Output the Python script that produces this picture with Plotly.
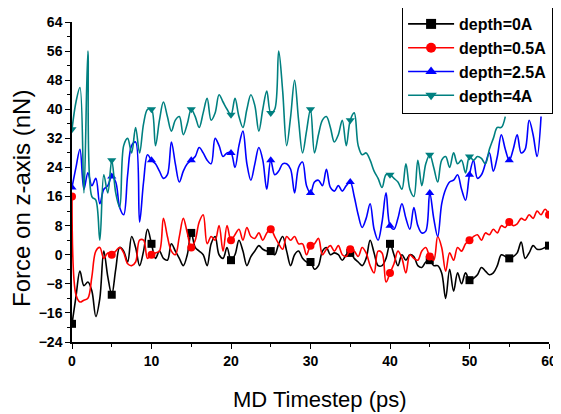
import numpy as np
import plotly.graph_objects as go

# time grid (ps), 0.5 ps sampling
time_ps = [i * 0.5 for i in range(121)]

depth_0A = [
    -19, -11.5, -4.5, -8.5, -7.5, -10, -17, -12, 1, -6,
    -11, -4, 2, 1, -2, 5, 2, -3, 1, 7,
    3, -1, 1, -1, -1.5, 3, 1, -1, -3, 0,
    6, 2, 1, 0, -3, 3, 5, 0, -1, 2,
    -1.5, 0, 4, 1, -3, -0.5, 1, 2.5, 1.5, 1,
    1, 0, 3, 5, 1, -3, 0, 1, -1, -2,
    -2, -4, -3, 1, 2, 0, 0.5, 0, -1.5, 0,
    0.5, -1, -2, -3, -1, 4, 0.5, -3, -3, -1,
    3, 0, -3, 0, -1.5, 0, -0.5, -3, -3.5, -2,
    -1.5, -3, -3, -5, -12, -4, -10, -5, -8, -5,
    -7, -6.5, -5.5, -3.5, -4.5, -5.5, -5, -3, 0, -0.5,
    -1, -0.5, 0.5, 3.5, -1, 0.5, 2.5, 1.5, 1.5, 2,
    2.5,
]

depth_05A = [
    16, -11, -13, -12.5, -12, -6, 1, 2, -1, 0.5,
    0, 1, 2, 0.5, -2.5, -3, -2, 4, 4, -1,
    0, 0.5, 1, 10, 5, 1, 0, 5, 10, 6,
    2, 4, 9, 11, 3, 5, 4, 8, 1, 8,
    4, 5.5, 7, 4, 7.5, 5, 4.5, 6, 4, 6,
    7, 5, 3, 1.5, 5, 4, 5, 3, 3, 0,
    2.5, 3, 4.5, 0, 1.5, 2.5, 1, 2.5, 0, -0.5,
    1.5, 1, -0.5, 2, 0.5, -3, -5, 1, 0.5, -7.5,
    -5, -2.5, 1, -1, -5, 0, -1, -1.5, 1, 2,
    -0.5, -1.5, 5, 2, -4.5, 0.5, -1.5, 2, 1, 3,
    4, 5, 5.5, 4, 6, 5.5, 7, 6, 8, 7.5,
    9, 8, 8.5, 10, 9.5, 11, 10, 12, 11, 12.5,
    11,
]

depth_25A = [
    18.5, 24, 29, 18, 22.5, 19, 21, 14, 18, 19,
    21.5, 20, 13, 11, 22, 30, 31, 9, 20, 27.5,
    26, 25, 23, 21, 22, 31, 25, 20, 23, 25,
    26, 27, 29.5, 28, 26, 25, 32, 30, 27, 28,
    28, 24, 30, 34, 25, 20.5, 25, 29.5, 26, 18,
    26, 22, 23, 25, 25, 23.5, 17, 24, 25.5, 19,
    17, 20, 20.5, 19, 23.5, 18.5, 17.5, 19, 17.5, 19,
    20, 16, 11, 7.5, 10, 14, 7, 4, 9, 17,
    8, 7, 10, 14, 10, 7, 13, 8, 6, 6.5,
    17, 10, 5, 14, 18, 20, 20.5, 22, 18, 15,
    22, 26, 21, 22, 25, 28, 23, 27, 33, 29,
    26, 29, 33, 28, 29, 37, 33, 27, 38,
]

depth_4A = [
    34.5, 42, 46, 17, 56, 16, 15, 4, 22, 17,
    26, 17, 13, 30, 32, 28, 35, 28, 36, 40,
    40, 30, 37, 42, 38, 34, 37, 38, 33, 36,
    40, 38, 35, 39, 43, 37, 39, 44, 42, 40,
    38.5, 43, 38, 35, 40, 44, 41, 34, 40, 45,
    39, 40, 56, 45, 30, 38, 48, 37, 28, 34,
    40, 28, 33, 37, 38, 35, 31, 33, 37, 30,
    37, 39, 30, 27.5, 28, 26, 23, 21, 18.5, 22,
    22, 21, 20, 18, 25, 18, 16, 26, 19, 25,
    27.5, 24, 20, 26, 27, 24, 28, 25, 26, 22.5,
    27, 26, 27, 26.5, 25, 29, 32, 35, 35, 38,
]

series_names = ["depth=0A", "depth=0.5A", "depth=2.5A", "depth=4A"]
series_values = [depth_0A, depth_05A, depth_25A, depth_4A]
series_colors = ["#000000", "#FF0000", "#0000FF", "#008080"]
series_symbols = ["square", "circle", "triangle-up", "triangle-down"]
marker_every = 10  # one marker every 5 ps

y_ticks = [-24, -16, -8, 0, 8, 16, 24, 32, 40, 48, 56, 64]
x_ticks = [0, 10, 20, 30, 40, 50, 60]
x_title = "MD Timestep (ps)"
y_title = "Force on z-axis (nN)"

font_family = "Arial, Liberation Sans, sans-serif"

fig = go.Figure()
for name, vals, col, sym in zip(series_names, series_values, series_colors, series_symbols):
    xs = time_ps[:len(vals)]
    fig.add_trace(go.Scatter(
        x=xs, y=vals, mode="lines", line=dict(color=col, width=1.6, shape="spline", smoothing=1.0),
        showlegend=False, legendgroup=name, hoverinfo="skip"))
    fig.add_trace(go.Scatter(
        x=xs[::marker_every], y=vals[::marker_every], mode="markers",
        marker=dict(symbol=sym, color=col, size=8), showlegend=False, legendgroup=name))
    fig.add_trace(go.Scatter(
        x=[None], y=[None], mode="lines+markers", name=name, legendgroup=name,
        line=dict(color=col, width=1.6), marker=dict(symbol=sym, color=col, size=10)))

axis_common = dict(
    showline=True, linecolor="black", linewidth=1.5, showgrid=False, zeroline=False,
    ticks="outside", ticklen=5, tickwidth=1.2, tickcolor="black",
    tickfont=dict(family=font_family, size=14, color="black", weight="bold"),
)

fig.update_xaxes(
    range=[0, 60], tickvals=x_ticks,
    minor=dict(dtick=5, ticks="outside", ticklen=3, tickcolor="black", tickwidth=1.2),
    **axis_common)
fig.update_yaxes(
    range=[-24, 64], tickvals=y_ticks,
    minor=dict(dtick=4, ticks="outside", ticklen=3, tickcolor="black", tickwidth=1.2),
    **axis_common)

fig.add_annotation(
    text=x_title, xref="paper", yref="paper", x=0.52, y=-0.181,
    xanchor="center", yanchor="middle", showarrow=False,
    font=dict(family=font_family, size=22, color="black"))
fig.add_annotation(
    text=y_title, xref="paper", yref="paper", x=-0.107, y=0.45,
    xanchor="center", yanchor="middle", showarrow=False, textangle=-90,
    font=dict(family=font_family, size=24, color="black"))

fig.update_layout(
    width=553, height=406,
    margin=dict(l=64, r=12, t=14, b=72, autoexpand=False),
    plot_bgcolor="white", paper_bgcolor="white",
    legend=dict(
        x=0.692, y=1.05, xanchor="left", yanchor="top",
        bordercolor="black", borderwidth=1, bgcolor="white",
        font=dict(family=font_family, size=16, color="black", weight="bold"),
        itemwidth=46, tracegroupgap=0,
    ),
)

fig.write_html("out.html")
